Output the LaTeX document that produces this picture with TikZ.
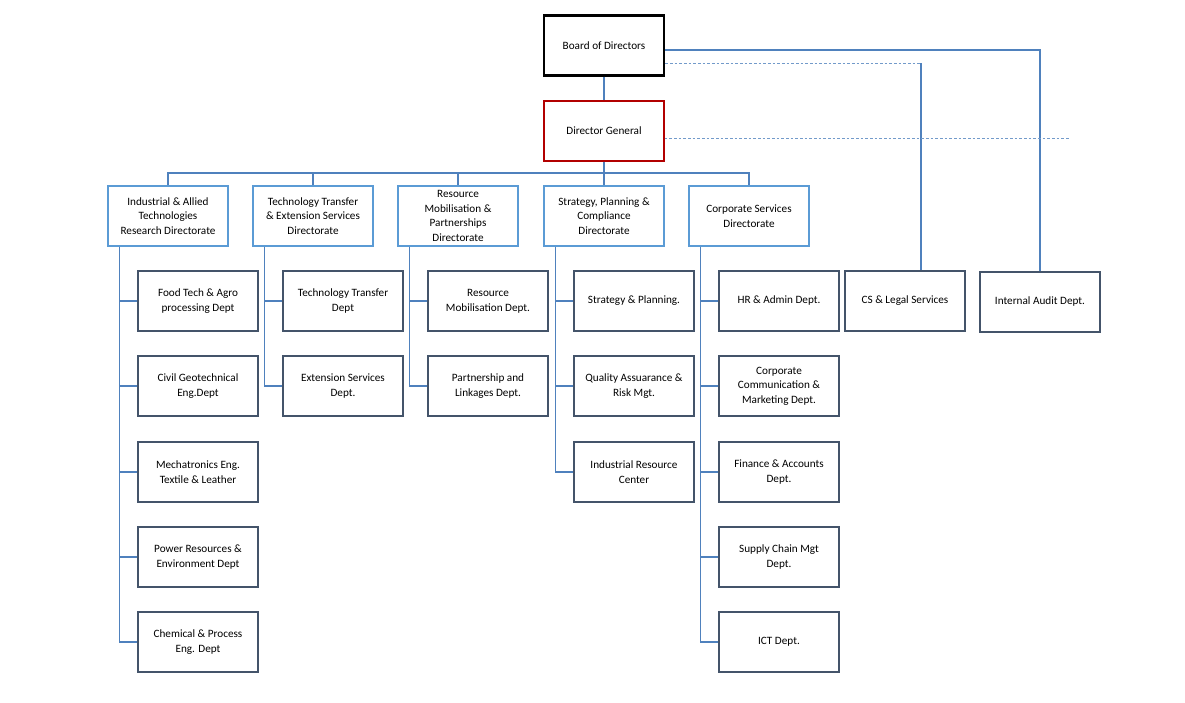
\documentclass[tikz,border=0pt]{standalone}
\usepackage{fontspec}
\setmainfont{Carlito}
\begin{document}
\begin{tikzpicture}[x=0.75pt,y=-0.75pt,
  base/.style={draw,minimum width=90pt,minimum height=45pt,align=center,font=\fontsize{8.4}{11}\selectfont,inner sep=1pt},
  dirbox/.style={base,draw=dirc,line width=0.9pt},
  dept/.style={base,draw=deptc,line width=0.9pt},
  conn/.style={draw=linec,line width=1.2pt},
  dconn/.style={draw=linec!80,line width=0.7pt,dash pattern=on 2pt off 1.5pt}]
\definecolor{dirc}{HTML}{5B9BD5}
\definecolor{deptc}{HTML}{44546A}
\definecolor{linec}{HTML}{4F81BD}
\useasboundingbox (0,0) rectangle (1185,703);
\node[base,draw=black,line width=1.8pt] (bod) at (604,45.5) {Board of Directors};
\node[base,draw=red!70!black,line width=1pt] (dg) at (604,131) {Director General};
\node[dirbox] (d1) at (168,216) {Industrial \& Allied\\Technologies\\Research Directorate};
\node[dirbox] (d2) at (313,216) {Technology Transfer\\\& Extension Services\\Directorate};
\node[dirbox] (d3) at (458,216) {Resource\\Mobilisation \&\\Partnerships\\Directorate};
\node[dirbox] (d4) at (604,216) {Strategy, Planning \&\\Compliance\\Directorate};
\node[dirbox] (d5) at (749,216) {Corporate Services\\Directorate};
\node[dept] (cs) at (905,301) {CS \& Legal Services};
\node[dept] (ia) at (1040,302) {Internal Audit Dept.};
% departments
\foreach \n/\x/\y/\t in {
 a1/198/301/{Food Tech \& Agro\\processing Dept},
 a2/198/386/{Civil Geotechnical\\Eng.Dept},
 a3/198/472/{Mechatronics Eng.\\Textile \& Leather},
 a4/198/557/{Power Resources \&\\Environment Dept},
 a5/198/642/{Chemical \& Process\\Eng. Dept},
 b1/343/301/{Technology Transfer\\Dept},
 b2/343/386/{Extension Services\\Dept.},
 c1/488/301/{Resource\\Mobilisation Dept.},
 c2/488/386/{Partnership and\\Linkages Dept.},
 e1/634/301/{Strategy \& Planning.},
 e2/634/386/{Quality Assuarance \&\\Risk Mgt.},
 e3/634/472/{Industrial Resource\\Center},
 f1/779/301/{HR \& Admin Dept.},
 f2/779/386/{Corporate\\Communication \&\\Marketing Dept.},
 f3/779/472/{Finance \& Accounts\\Dept.},
 f4/779/557/{Supply Chain Mgt\\Dept.},
 f5/779/642/{ICT Dept.}}
 {\node[dept] (\n) at (\x,\y) {\t};}
% top connectors
\draw[conn] (bod) -- (dg);
\coordinate (bus) at (604,173);
\draw[conn] (dg.south) -- (bus);
\draw[conn] (d1.north) |- (bus) -| (d5.north);
\foreach \d in {d2,d3,d4} \draw[conn] (\d.north) -- (\d.north |- bus);
\draw[conn] (bod.east |- 0,50) -| (ia.north);
\draw[dconn] (bod.east |- 0,63) -- (921,63);
\draw[conn] (921,63) -- (cs.north -| 921,0);
\draw[dconn] (dg.east |- 0,138) -- (1070,138);
% spines
\foreach \d/\off/\last/\list in {d1/48/a5/{a1,a2,a3,a4,a5}, d2/48/b2/{b1,b2}, d3/48/c2/{c1,c2}, d4/48/e3/{e1,e2,e3}, d5/48/f5/{f1,f2,f3,f4,f5}}{
  \draw[conn] ([xshift=9pt]\d.south west) -- ([xshift=9pt]\d.south west |- \last.west);
  \foreach \k in \list \draw[conn] ([xshift=9pt]\d.south west |- \k.west) -- (\k.west);
}
\end{tikzpicture}
\end{document}
